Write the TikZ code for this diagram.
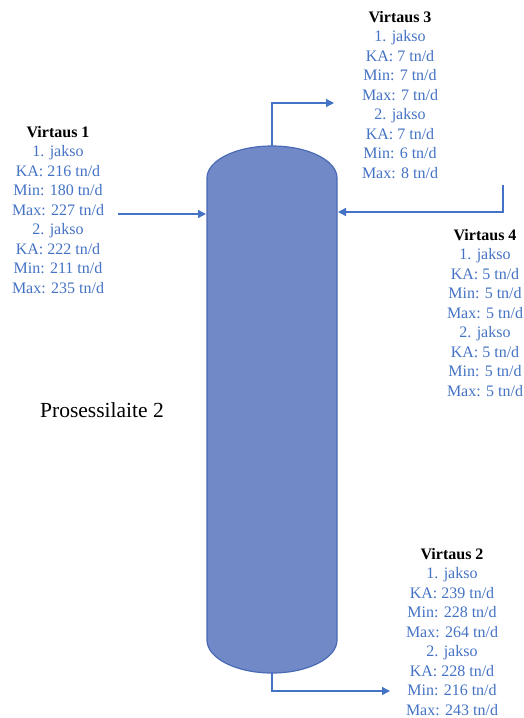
\documentclass[tikz,border=0pt]{standalone}
\usepackage{fontspec}
\setmainfont{LiberationSerif}[Extension=.ttf, UprightFont=*-Regular, BoldFont=*-Bold]
\usetikzlibrary{arrows.meta}
\definecolor{flowblue}{HTML}{4472C4}
\definecolor{vesselfill}{HTML}{7189C6}
\definecolor{vesseledge}{HTML}{4A6AB5}
\tikzset{
  flow/.style={draw=flowblue, line width=1.4pt, -{Triangle[length=8pt,width=8pt]}},
  flowtext/.style={text=flowblue, align=center, inner sep=0pt,
    font=\fontsize{16}{19.5}\selectfont},
}
\newcommand{\virtaus}[1]{\textcolor{black}{\textbf{Virtaus #1}}}

\begin{document}
\begin{tikzpicture}[x=1pt,y=1pt]
            \useasboundingbox (0,0) rectangle (524,-718);
            \draw[vesseledge, fill=vesselfill, line width=1.2pt] (207,-178)
              arc[start angle=180, end angle=0, x radius=65, y radius=32] -- (337,-640)
              arc[start angle=0, end angle=-180, x radius=65, y radius=33] -- cycle;

            \coordinate (top) at (272,-146);
            \coordinate (bottom) at (272,-673);
            \coordinate (leftin) at (206,-214);
            \coordinate (rightin) at (338,-212);
            \coordinate (v1start) at (118,-214);
            \coordinate (v3end) at (334,-103);
            \coordinate (v4start) at (503,-185);
            \coordinate (v2end) at (390,-691);

            \draw[flow] (v1start) -- (leftin);
            \draw[flow] (top) |- (v3end);
            \draw[flow] (v4start) |- (rightin);
            \draw[flow] (bottom) |- (v2end);

            \node[flowtext] (v1) at (58,-210) {\virtaus{1}\\1. jakso\\KA: 216 tn/d\\Min: 180 tn/d\\Max: 227 tn/d\\2. jakso\\KA: 222 tn/d\\Min: 211 tn/d\\Max: 235 tn/d};
            \node[flowtext] (v3) at (400,-95) {\virtaus{3}\\1. jakso\\KA: 7 tn/d\\Min: 7 tn/d\\Max: 7 tn/d\\2. jakso\\KA: 7 tn/d\\Min: 6 tn/d\\Max: 8 tn/d};
            \node[flowtext] (v4) at (485,-313) {\virtaus{4}\\1. jakso\\KA: 5 tn/d\\Min: 5 tn/d\\Max: 5 tn/d\\2. jakso\\KA: 5 tn/d\\Min: 5 tn/d\\Max: 5 tn/d};
            \node[flowtext] (v2) at (452,-632) {\virtaus{2}\\1. jakso\\KA: 239 tn/d\\Min: 228 tn/d\\Max: 264 tn/d\\2. jakso\\KA: 228 tn/d\\Min: 216 tn/d\\Max: 243 tn/d};
            \node[font=\fontsize{21.5}{26}\selectfont, inner sep=0pt] (vessel) at (102,-410) {Prosessilaite 2};
\end{tikzpicture}
\end{document}
